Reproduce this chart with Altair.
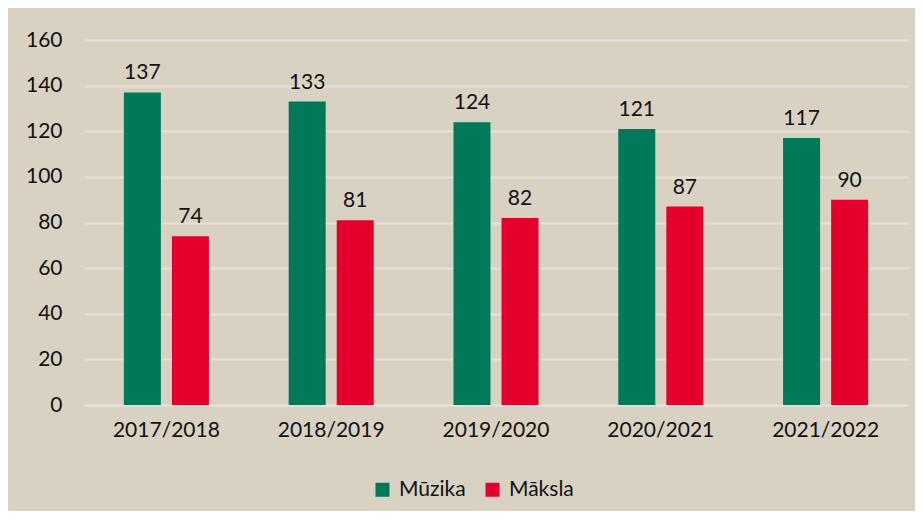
import altair as alt
import pandas as pd

years = ["2017/2018", "2018/2019", "2019/2020", "2020/2021", "2021/2022"]
muzika = [137, 133, 124, 121, 117]
maksla = [74, 81, 82, 87, 90]
series = ["Mūzika", "Māksla"]
colors = ["#00785A", "#E4002B"]

rows = []
for y, m, k in zip(years, muzika, maksla):
    rows.append({"year": y, "series": series[0], "value": m})
    rows.append({"year": y, "series": series[1], "value": k})
df = pd.DataFrame(rows)

FONT = "Lato"
FS = 21

x = alt.X("year:N", sort=years, title=None,
          scale=alt.Scale(paddingInner=0, paddingOuter=0),
          axis=alt.Axis(labelAngle=0, labelFontSize=FS, labelFont=FONT, labelColor="#111111",
                        ticks=False, domainColor="#E4E1DA", domainWidth=2, labelPadding=14,
                        grid=False))
xo = alt.XOffset("series:N", sort=series,
                 scale=alt.Scale(paddingInner=0.23, paddingOuter=0.83))
y = alt.Y("value:Q", title=None,
          scale=alt.Scale(domain=[0, 160]),
          axis=alt.Axis(values=[0, 20, 40, 60, 80, 100, 120, 140, 160], labelFontSize=FS,
                        labelFont=FONT, labelColor="#111111", ticks=False, domain=False,
                        gridColor="#E4E1DA", gridWidth=2, labelPadding=22))
color = alt.Color("series:N", sort=series,
                  scale=alt.Scale(domain=series, range=colors),
                  legend=alt.Legend(title=None, orient="none", direction="horizontal",
                                    legendX=288, legendY=439, symbolType="square",
                                    symbolSize=196, symbolStrokeWidth=0, labelFontSize=FS,
                                    labelFont=FONT, labelColor="#111111", labelOffset=6,
                                    columnPadding=16))

base = alt.Chart(df)
bars = base.mark_bar().encode(x=x, xOffset=xo, y=y, color=color)
labels = base.mark_text(baseline="bottom", dy=-9, fontSize=FS, font=FONT, color="#111111").encode(
    x=x, xOffset=xo, y=y, text=alt.Text("value:Q"))

chart = (bars + labels).properties(
    width=824, height=365,
    background="#D9D2C2",
    padding={"left": 76, "top": 32, "right": 7, "bottom": 106},
    autosize=alt.AutoSizeParams(type="none"),
).configure_view(stroke=None)

chart.save("out.html", embed_options={"renderer": "svg", "actions": False})
